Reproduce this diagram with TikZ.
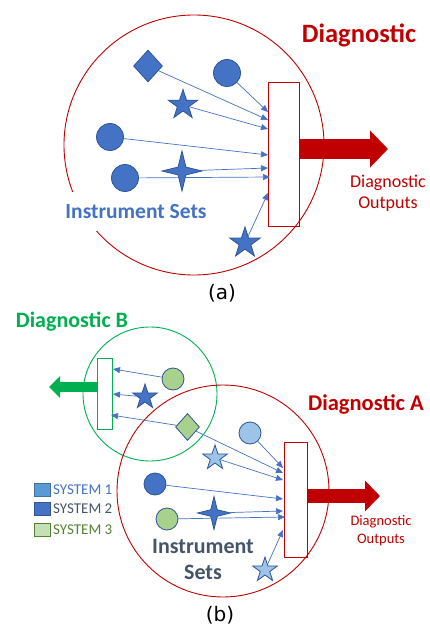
\documentclass[tikz,border=0pt]{standalone}
\usepackage{fontspec}
\setmainfont{Carlito}
\newfontfamily\labfont{DejaVu Sans}
\usetikzlibrary{shapes.geometric,arrows.meta}
\definecolor{sysblue}{HTML}{4472C4}
\definecolor{sysborder}{HTML}{2F5597}
\definecolor{lblue}{HTML}{9DC3E6}
\definecolor{lgreen}{HTML}{A9D18E}
\definecolor{dred}{HTML}{C00000}
\definecolor{dgreen}{HTML}{00B050}
\definecolor{slate}{HTML}{44546A}
\definecolor{sqone}{HTML}{5B9BD5}
\definecolor{sqoneb}{HTML}{41719C}
\definecolor{sqthree}{HTML}{C5E0B4}
\definecolor{gtext}{HTML}{548235}
\newcommand{\fs}[1]{\fontsize{#1}{#1}\selectfont}
\begin{document}
\begin{tikzpicture}[x=1pt,y=-1pt,
  conn/.style={draw=sysblue, line width=0.7pt, -{Triangle[length=7pt,width=6pt]}},
  shp/.style={draw=sysborder, line width=0.8pt, inner sep=0pt},
  rnd/.style={shp, circle, minimum size=#1},
  dia/.style={shp, diamond},
  fivestar/.style={shp, star, star points=5, star point ratio=2.6, minimum size=#1},
  fourstar/.style={shp, star, star points=4, star point ratio=3.6, minimum size=#1},
  agg/.style={draw=#1, line width=1pt, inner sep=0pt},
  ring/.style={draw=#1, line width=0.9pt},
  legsq/.style={line width=0.8pt, minimum width=16pt, minimum height=13pt, inner sep=0pt},
  legtx/.style={anchor=west, font=\fs{15}, inner sep=0pt}
]
\useasboundingbox (0,0) rectangle (430,628);

% ================= panel (a) =================
\draw[ring=dred] (194,145) circle[radius=130];
\node[font=\bfseries\fs{21.5}, text=sysblue, fill=white, inner xsep=2pt, inner ysep=12pt] (isA) at (136,211.5) {Instrument Sets};
\node[agg=dred, minimum width=31pt, minimum height=143pt] (aggA) at (283.5,154.5) {};
\coordinate (outA) at (299,149);
\coordinate (tipA) at (388,149);
\draw[dred, line width=20pt, -{Triangle[length=18pt,width=36pt]}] (outA) -- (tipA);
\node[anchor=base, font=\bfseries\fs{26.5}, text=dred] (titA) at (359,43) {Diagnostic};
\node[anchor=base, font=\fs{18}, text=dred] (oA1) at (388,188) {Diagnostic};
\node[anchor=base, font=\fs{18}, text=dred] (oA2) at (388,208) {Outputs};
\node[font=\labfont\fs{20}] (capA) at (222,293) {(a)};

\node[dia, fill=sysblue, minimum width=29pt, minimum height=32pt] (d1) at (148,66) {};
\node[rnd=27pt, fill=sysblue] (c1) at (227,73) {};
\node[fivestar=31pt, fill=sysblue] (s1) at (183,105) {};
\node[rnd=27pt, fill=sysblue] (c2) at (110,137) {};
\node[fourstar=40pt, fill=sysblue] (f1) at (182,171) {};
\node[rnd=27pt, fill=sysblue] (c3) at (125,178) {};
\node[fivestar=32pt, fill=sysblue] (s2) at (245,243) {};

\coordinate (t1) at (268,112);
\coordinate (t2) at (268,120);
\coordinate (t3) at (268,129);
\coordinate (t4) at (268,155);
\coordinate (t5) at (268,168);
\coordinate (t6) at (270,177);
\coordinate (t7) at (268,193);
\draw[conn] (c1) -- (t1);
\draw[conn] (d1) -- (t2);
\draw[conn] (s1) -- (t3);
\draw[conn] (c2) -- (t4);
\draw[conn] (f1) -- (t5);
\draw[conn] (c3) -- (t6);
\draw[conn] (s2) -- (t7);

% ================= panel (b) =================
\draw[ring=dgreen] (150,394) circle[radius=67];
\draw[ring=dred] (223,491) circle[radius=106];
\node[anchor=base, font=\bfseries\fs{22}, text=dgreen] (titB) at (72,327) {Diagnostic B};
\node[anchor=base, font=\bfseries\fs{22.5}, text=dred] (titAA) at (366,410) {Diagnostic A};

\node[agg=dgreen, minimum width=15pt, minimum height=71pt] (aggG) at (104.5,393.5) {};
\coordinate (outG) at (97,387);
\coordinate (tipG) at (49,387);
\draw[dgreen, line width=10pt, -{Triangle[length=11pt,width=21pt]}] (outG) -- (tipG);

\node[agg=dred, minimum width=23pt, minimum height=115pt] (aggR) at (295.5,499.5) {};
\coordinate (outR) at (307,496);
\coordinate (tipR) at (380,496);
\draw[dred, line width=14pt, -{Triangle[length=15pt,width=30pt]}] (outR) -- (tipR);
\node[anchor=base, font=\fs{14.5}, text=dred] (oB1) at (381,525) {Diagnostic};
\node[anchor=base, font=\fs{14.5}, text=dred] (oB2) at (381,543) {Outputs};

\node[legsq, fill=sqone, draw=sqoneb] (q1) at (42.5,489.5) {};
\node[legsq, fill=sysblue, draw=sysborder] (q2) at (42.5,509) {};
\node[legsq, fill=sqthree, draw=gtext] (q3) at (42.5,529.5) {};
\node[legtx, text=sysblue] (l1) at (53,489.5) {SYSTEM 1};
\node[legtx, text=slate] (l2) at (53,509) {SYSTEM 2};
\node[legtx, text=gtext] (l3) at (53,529.5) {SYSTEM 3};

\node[anchor=base, font=\bfseries\fs{22}, text=slate] (isB1) at (203,553) {Instrument};
\node[anchor=base, font=\bfseries\fs{22}, text=slate] (isB2) at (203,579) {Sets};
\node[font=\labfont\fs{20}] (capB) at (220,615) {(b)};

\node[rnd=22pt, fill=lgreen] (gc1) at (173,379) {};
\node[fivestar=26pt, fill=sysblue] (ds1) at (145,397) {};
\node[dia, fill=lgreen, minimum width=24pt, minimum height=27pt] (gd1) at (187.5,427) {};
\node[rnd=22pt, fill=lblue] (lc1) at (250,433) {};
\node[fivestar=26pt, fill=lblue] (ls1) at (215,458) {};
\node[rnd=22pt, fill=sysblue] (dc1) at (155,484) {};
\node[rnd=22pt, fill=lgreen] (gc2) at (167,519) {};
\node[fourstar=33pt, fill=sysblue] (df1) at (214,513) {};
\node[fivestar=26pt, fill=lblue] (ls2) at (265,570) {};

\coordinate (g1) at (113,369);
\coordinate (g2) at (113,394);
\coordinate (g3) at (111,415);
\draw[conn] (gc1) -- (g1);
\draw[conn] (ds1) -- (g2);
\draw[conn] (gd1) -- (g3);

\coordinate (r1) at (283,468);
\coordinate (r2) at (283,473);
\coordinate (r3) at (283,480);
\coordinate (r4) at (283,499);
\coordinate (r5) at (283,511);
\coordinate (r6) at (285,517);
\coordinate (r7) at (283,530);
\draw[conn] (lc1) -- (r1);
\draw[conn] (gd1) -- (r2);
\draw[conn] (ls1) -- (r3);
\draw[conn] (dc1) -- (r4);
\draw[conn] (df1) -- (r5);
\draw[conn] (gc2) -- (r6);
\draw[conn] (ls2) -- (r7);
\end{tikzpicture}
\end{document}
